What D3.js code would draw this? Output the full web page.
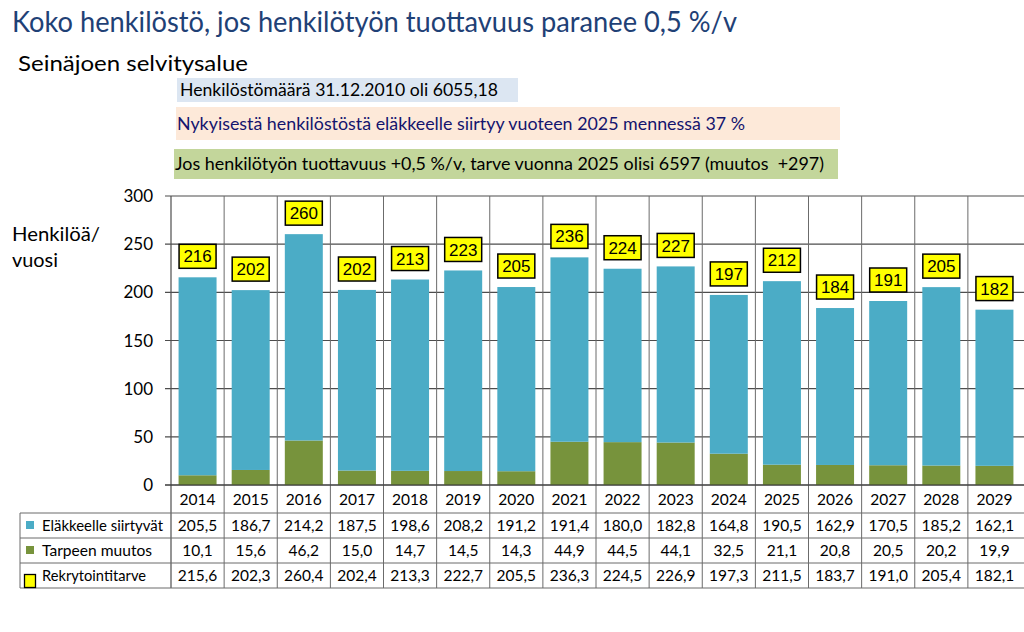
<!DOCTYPE html>
<html><head><meta charset="utf-8">
<script src="https://cdn.jsdelivr.net/npm/d3@7"></script>
<style>body{margin:0;background:#fff}svg{display:block}</style>
</head><body>
<svg id="c" width="1024" height="632"></svg>
<script>
const years = ["2014","2015","2016","2017","2018","2019","2020","2021","2022","2023","2024","2025","2026","2027","2028","2029"];
const elakkeelle = [205.5,186.7,214.2,187.5,198.6,208.2,191.2,191.4,180.0,182.8,164.8,190.5,162.9,170.5,185.2,162.1];
const muutos = [10.1,15.6,46.2,15.0,14.7,14.5,14.3,44.9,44.5,44.1,32.5,21.1,20.8,20.5,20.2,19.9];
const rekry = [215.6,202.3,260.4,202.4,213.3,222.7,205.5,236.3,224.5,226.9,197.3,211.5,183.7,191.0,205.4,182.1];
const rekryLabels = [216,202,260,202,213,223,205,236,224,227,197,212,184,191,205,182];
const yTicks = [0,50,100,150,200,250,300];
const seriesNames = ["Eläkkeelle siirtyvät","Tarpeen muutos","Rekrytointitarve"];
const titleText = "Koko henkilöstö, jos henkilötyön tuottavuus paranee 0,5 %/v";
const subtitleText = "Seinäjoen selvitysalue";
const infoTexts = ["Henkilöstömäärä 31.12.2010 oli 6055,18",
  "Nykyisestä henkilöstöstä eläkkeelle siirtyy vuoteen 2025 mennessä 37 %",
  "Jos henkilötyön tuottavuus +0,5 %/v, tarve vuonna 2025 olisi 6597 (muutos  +297)"];
const yLabel = ["Henkilöä/","vuosi"];

(function(){
const svg = d3.select("#c");
const F = "Lato, 'Open Sans', sans-serif";
const A = "'Liberation Sans', Arial, sans-serif";
const BLUE = "#4BACC6", GREEN = "#77933C", YEL = "#FFFF00";

function fitLen(sel, w){ sel.attr("textLength", w).attr("lengthAdjust","spacingAndGlyphs"); return sel; }

svg.append("rect").attr("width",1024).attr("height",632).attr("fill","#fff");

// title
fitLen(svg.append("text").attr("x",12).attr("y",32).attr("font-family",F).attr("font-size",28)
  .attr("fill","#1F4176").style("white-space","pre").text(titleText), 725);
fitLen(svg.append("text").attr("x",18).attr("y",71).attr("font-family",F).attr("font-size",21)
  .attr("fill","#000").text(subtitleText), 230);

// info boxes
const boxes = [
  {x:177,y:78,w:341,h:24,fill:"#DCE6F2",tx:180,ty:96,col:"#000",tw:318},
  {x:176,y:107,w:664,h:33,fill:"#FDE9D9",tx:177,ty:130,col:"#14146E",tw:568},
  {x:174,y:149,w:664,h:30,fill:"#C3D69B",tx:175,ty:170,col:"#000",tw:649}
];
boxes.forEach((b,i)=>{
  svg.append("rect").attr("x",b.x).attr("y",b.y).attr("width",b.w).attr("height",b.h).attr("fill",b.fill);
  fitLen(svg.append("text").attr("x",b.tx).attr("y",b.ty).attr("font-family",F).attr("font-size",16.5)
    .attr("fill",b.col).style("white-space","pre").text(infoTexts[i]), b.tw);
});

// scales
const pL=171, pR=1021, pT=196, pB=485;
const x = d3.scaleBand().domain(years).range([pL,pR]).paddingInner(0).paddingOuter(0);
const y = d3.scaleLinear().domain([0,300]).range([pB,pT]);
const bw = x.bandwidth()*0.715;

// y label
fitLen(svg.append("text").attr("x",12).attr("y",241).attr("font-family",F)
  .attr("font-size",20).attr("fill","#000").text(yLabel[0]), 88);
fitLen(svg.append("text").attr("x",12).attr("y",267).attr("font-family",F)
  .attr("font-size",20).attr("fill","#000").text(yLabel[1]), 46);

// horizontal gridlines
svg.append("g").selectAll("line").data(yTicks).join("line")
  .attr("x1",165).attr("x2",1024).attr("y1",d=>y(d)).attr("y2",d=>y(d))
  .attr("stroke","#4d4d4d").attr("stroke-width",1.1);
// y tick labels
svg.append("g").selectAll("text").data(yTicks).join("text")
  .attr("x",153).attr("y",d=>y(d)).attr("dy","0.36em").attr("text-anchor","end")
  .attr("font-family",F).attr("font-size",17).attr("fill","#000").text(d=>d);

// vertical lines (category boundaries)
const bounds = years.map(d=>x(d)).concat([pR]);
svg.append("g").selectAll("line").data(bounds.slice(1,-1)).join("line")
  .attr("x1",d=>d).attr("x2",d=>d).attr("y1",pT).attr("y2",588)
  .attr("stroke","#6b6b6b").attr("stroke-width",1);
svg.append("line").attr("x1",pL).attr("x2",pL).attr("y1",pT).attr("y2",588)
  .attr("stroke","#4d4d4d").attr("stroke-width",1.2);

// bars
const g = svg.append("g");
g.selectAll(".bm").data(years).join("rect")
  .attr("x",d=>x(d)+(x.bandwidth()-bw)/2).attr("width",bw)
  .attr("y",(d,i)=>y(muutos[i])).attr("height",(d,i)=>y(0)-y(muutos[i])).attr("fill",GREEN);
g.selectAll(".be").data(years).join("rect")
  .attr("x",d=>x(d)+(x.bandwidth()-bw)/2).attr("width",bw)
  .attr("y",(d,i)=>y(muutos[i]+elakkeelle[i])).attr("height",(d,i)=>y(muutos[i])-y(muutos[i]+elakkeelle[i])).attr("fill",BLUE);

// axis line
svg.append("line").attr("x1",165).attr("x2",1024).attr("y1",pB).attr("y2",pB)
  .attr("stroke","#333").attr("stroke-width",1.2);

// labels
const lw=37, lh=24;
const lab = svg.append("g").selectAll("g").data(years).join("g")
  .attr("transform",(d,i)=>`translate(${x(d)+x.bandwidth()/2},${y(rekry[i])-9-lh/2})`);
lab.append("rect").attr("x",-lw/2).attr("y",-lh/2).attr("width",lw).attr("height",lh)
  .attr("fill",YEL).attr("stroke","#000").attr("stroke-width",1.5);
lab.append("text").attr("text-anchor","middle").attr("dy","0.36em").attr("font-family",A)
  .attr("font-size",17).attr("fill","#000").text((d,i)=>rekryLabels[i]);

// table
const rows = [513,538,563,588];
svg.append("g").selectAll("line").data(rows).join("line")
  .attr("x1",20).attr("x2",1024).attr("y1",d=>d).attr("y2",d=>d)
  .attr("stroke","#6b6b6b").attr("stroke-width",1);
svg.append("line").attr("x1",20).attr("x2",20).attr("y1",513).attr("y2",588).attr("stroke","#6b6b6b");

// year labels
svg.append("g").selectAll("text").data(years).join("text")
  .attr("x",d=>x(d)+x.bandwidth()/2).attr("y",499).attr("dy","0.36em").attr("text-anchor","middle")
  .attr("font-family",F).attr("font-size",15.5).attr("fill","#000").text(d=>d);

const fmt = v=>v.toFixed(1).replace(".",",");
const nameW = [121,110,104];
[elakkeelle,muutos,rekry].forEach((arr,r)=>{
  svg.append("g").selectAll("text").data(years).join("text")
    .attr("x",d=>x(d)+x.bandwidth()/2).attr("y",rows[r]+12.5).attr("dy","0.36em").attr("text-anchor","middle")
    .attr("font-family",F).attr("font-size",15.5).attr("fill","#000").text((d,i)=>fmt(arr[i]));
  fitLen(svg.append("text").attr("x",42).attr("y",rows[r]+12.5).attr("dy","0.36em")
    .attr("font-family",F).attr("font-size",16).attr("fill","#000").text(seriesNames[r]), nameW[r]);
});
// legend keys
svg.append("rect").attr("x",26).attr("y",521).attr("width",8).attr("height",8).attr("fill",BLUE);
svg.append("rect").attr("x",26).attr("y",546).attr("width",8).attr("height",8).attr("fill",GREEN);
svg.append("rect").attr("x",24.5).attr("y",574.5).attr("width",11).attr("height",13).attr("fill",YEL)
  .attr("stroke","#000").attr("stroke-width",1.3);
})();
</script>
</body></html>
